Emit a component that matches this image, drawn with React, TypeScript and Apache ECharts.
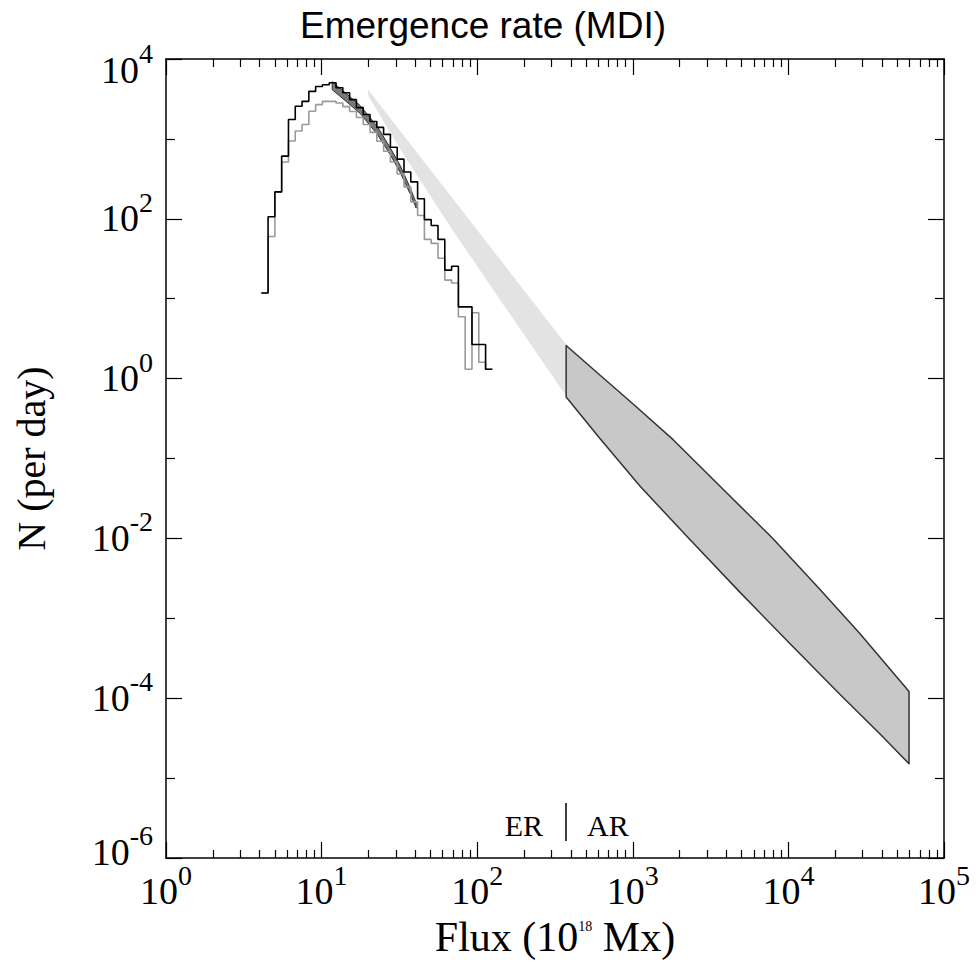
import React, { useEffect, useRef } from 'react';
import * as echarts from 'echarts';

const SERIF = '"Liberation Serif", "Times New Roman", serif';
const SANS = '"Liberation Sans", Arial, sans-serif';

// Histogram bin edges (flux, 1e18 Mx)
const binEdges = [4.095, 4.529, 5.008, 5.538, 6.124, 6.771, 7.487, 8.279, 9.156, 10.12, 11.2, 12.38, 13.69, 15.14, 16.74, 18.51, 20.47, 22.64, 25.03, 27.68, 30.61, 33.85, 37.43, 41.4, 45.78, 50.62, 55.98, 61.9, 68.46, 75.7, 83.71, 92.57, 102.4, 113.2, 125.2];
// Black histogram (per day)
const countsBlack = [11.8, 106, 217, 608, 1751, 2560, 2953, 3930, 4530, 4756, 5036, 4366, 3785, 3100, 2466, 2019, 1653, 1393, 1140, 787, 558, 385, 290, 178, 97.7, 82.4, 55.2, 22.8, 25.5, 7.91, 7.91, 2.67, 2.67, 1.31];
// Gray histogram (per day)
const countsGray = [11.8, 60.1, 217, 513, 942, 1253, 1517, 2218, 2687, 2953, 2953, 2820, 2537, 2199, 1854, 1517, 1208, 934, 702, 513, 364, 251, 163, 110, 55.2, 49.2, 32.1, 17.1, 15.7, 5.94, 1.31, 6.67, 1.6, 1.31];

// ER fit band (dark)
const erFlux = [11.7, 14.19, 17.71, 22.78, 27.61, 32.0, 37.1, 40.55];
const erHigh = [5184, 3786, 2612, 1433, 775, 464, 244, 157];
const erLow = [4125, 3012, 2078, 1141, 635, 380, 205, 136];

// Extrapolated band (light)
const extFlux = [19.93, 32.0, 67.06, 140.4, 372.9];
const extHigh = [4125, 1260, 197, 30.9, 2.67];
const extLow = [3475, 743, 80.0, 9.66, 0.605];

// AR band, upper and lower edges
const arHighFlux = [373, 616.6, 1005, 1816, 3639, 7970, 15970, 28870, 59600];
const arHigh = [2.6, 1.1, 0.481, 0.172, 0.0449, 9.89e-3, 2.3e-3, 6.4e-4, 1.215e-4];
const arLowFlux = [373, 616.6, 1114, 2335, 4891, 10250, 21480, 38810, 59600];
const arLow = [0.588, 0.177, 0.0449, 9.61e-3, 2.11e-3, 4.79e-4, 1.11e-4, 3.56e-5, 1.51e-5];

const xMajorTicks = [1, 10, 100, 1000, 10000, 100000];
const xMinorTicks = [2, 3, 4, 5, 6, 7, 8, 9, 20, 30, 40, 50, 60, 70, 80, 90, 200, 300, 400, 500, 600, 700, 800, 900, 2000, 3000, 4000, 5000, 6000, 7000, 8000, 9000, 20000, 30000, 40000, 50000, 60000, 70000, 80000, 90000];
const yMajorTicks = [1e-6, 1e-4, 1e-2, 1, 1e2, 1e4];
const yMinorTicks = [1e-5, 1e-3, 1e-1, 10, 1e3];

const expOf = (v: number) => Math.round(Math.log10(v));

const labelRich = {
  b: { fontFamily: SERIF, fontSize: 38, lineHeight: 49, verticalAlign: 'bottom', color: '#000' },
  s: { fontFamily: SERIF, fontSize: 28, lineHeight: 12, verticalAlign: 'top', color: '#000' },
  g: { fontFamily: SERIF, fontSize: 8, lineHeight: 22 },
  h: { fontFamily: SERIF, fontSize: 8, lineHeight: 12 },
};

const lineStyle = { color: '#000', width: 1.5 };

function xAxisDef(position: string, ticks: number[], len: number, main: boolean, labels: boolean) {
  return {
    type: 'log', logBase: 10, min: 1, max: 1e5, position, gridIndex: 0,
    axisLine: { show: main, onZero: false, lineStyle },
    axisTick: { show: true, inside: true, length: len, customValues: ticks, lineStyle: { color: '#000', width: 1.2 } },
    axisLabel: labels
      ? {
          customValues: xMajorTicks, margin: 3, rich: labelRich,
          formatter: (v: number) => `{b|10}{s|${expOf(v)}}`,
        }
      : { show: false },
    splitLine: { show: false },
    ...(labels
      ? {
          name: '{a|Flux (10}{s|18}{a| Mx)}', nameLocation: 'middle', nameGap: 61,
          nameTextStyle: {
            rich: {
              a: { fontFamily: SERIF, fontSize: 42, lineHeight: 36, color: '#000' },
              s: { fontFamily: SERIF, fontSize: 14, lineHeight: 14, verticalAlign: 'top', color: '#000' },
            },
          },
        }
      : {}),
  };
}

function yAxisDef(position: string, ticks: number[], len: number, main: boolean, labels: boolean) {
  return {
    type: 'log', logBase: 10, min: 1e-6, max: 1e4, position, gridIndex: 0,
    axisLine: { show: main, onZero: false, lineStyle },
    axisTick: { show: true, inside: true, length: len, customValues: ticks, lineStyle: { color: '#000', width: 1.2 } },
    axisLabel: labels
      ? {
          customValues: yMajorTicks, margin: 13, rich: labelRich, padding: [0, 0, 12, 0],
          formatter: (v: number) => {
            const e = expOf(v);
            if (e === 4) return `{g| }\n{b|10}{s|${e}}`;
            if (e === -6) return `{b|10}{s|${e}}\n{h| }`;
            return `{b|10}{s|${e}}`;
          },
        }
      : { show: false },
    splitLine: { show: false },
    ...(labels
      ? {
          name: 'N (per day)', nameLocation: 'middle', nameGap: 115,
          nameTextStyle: { fontFamily: SERIF, fontSize: 40, color: '#000' },
        }
      : {}),
  };
}

function bandRender(hx: number[], hi: number[], lx: number[], lo: number[], fill: string, stroke: string | null, lw: number) {
  return (params: any, api: any) => {
    if (params.dataIndex !== 0) return null;
    const pts: number[][] = [];
    for (let i = 0; i < hx.length; i++) pts.push(api.coord([hx[i], hi[i]]));
    for (let i = lx.length - 1; i >= 0; i--) pts.push(api.coord([lx[i], lo[i]]));
    return {
      type: 'polygon',
      shape: { points: pts },
      style: { fill, stroke: stroke || 'none', lineWidth: lw, lineJoin: 'round' },
    };
  };
}

function stepData(counts: number[]) {
  return binEdges.map((e, i) => [e, counts[Math.min(i, counts.length - 1)]]);
}

function buildOption() {
  return {
    animation: false,
    backgroundColor: '#fff',
    grid: { left: 166, right: 32, top: 59, bottom: 98 },
    xAxis: [
      xAxisDef('bottom', xMajorTicks, 16, true, true),
      xAxisDef('bottom', xMinorTicks, 8, false, false),
      xAxisDef('top', xMajorTicks, 16, true, false),
      xAxisDef('top', xMinorTicks, 8, false, false),
    ],
    yAxis: [
      yAxisDef('left', yMajorTicks, 16, true, true),
      yAxisDef('left', yMinorTicks, 9, false, false),
      yAxisDef('right', yMajorTicks, 16, true, false),
      yAxisDef('right', yMinorTicks, 9, false, false),
    ],
    graphic: [
      {
        type: 'text', x: 483, y: 25, z: 10,
        style: { text: 'Emergence rate (MDI)', fontFamily: SANS, fontSize: 37, fill: '#000', textAlign: 'center', textVerticalAlign: 'middle' },
      },
      {
        type: 'text', x: 543, y: 825, z: 10,
        style: { text: 'ER', fontFamily: SERIF, fontSize: 30, fill: '#000', textAlign: 'right', textVerticalAlign: 'middle' },
      },
      {
        type: 'text', x: 587, y: 825, z: 10,
        style: { text: 'AR', fontFamily: SERIF, fontSize: 30, fill: '#000', textAlign: 'left', textVerticalAlign: 'middle' },
      },
      {
        type: 'line', z: 10,
        shape: { x1: 566, y1: 803, x2: 566, y2: 841 },
        style: { stroke: '#000', lineWidth: 1.5 },
      },
    ],
    series: [
      {
        type: 'custom', name: 'extrapolation', xAxisIndex: 0, yAxisIndex: 0, silent: true,
        data: [[extFlux[0], extHigh[0]]],
        renderItem: bandRender(extFlux, extHigh, extFlux, extLow, '#e3e3e3', null, 0),
      },
      {
        type: 'custom', name: 'AR', xAxisIndex: 0, yAxisIndex: 0, silent: true,
        data: [[arHighFlux[0], arHigh[0]]],
        renderItem: bandRender(arHighFlux, arHigh, arLowFlux, arLow, '#c8c8c8', '#333', 1.5),
      },
      {
        type: 'line', name: 'gray', xAxisIndex: 0, yAxisIndex: 0, step: 'end', showSymbol: false, symbol: 'none',
        data: stepData(countsGray),
        lineStyle: { color: '#9a9a9a', width: 1.6 },
      },
      {
        type: 'line', name: 'black', xAxisIndex: 0, yAxisIndex: 0, step: 'end', showSymbol: false, symbol: 'none',
        data: stepData(countsBlack),
        lineStyle: { color: '#000', width: 1.6 },
      },
      {
        type: 'custom', name: 'ER fit', xAxisIndex: 0, yAxisIndex: 0, silent: true,
        data: [[erFlux[0], erHigh[0]]],
        renderItem: bandRender(erFlux, erHigh, erFlux, erLow, '#7a7a7a', '#333', 1),
      },
    ],
  };
}

export default function App() {
  const ref = useRef<HTMLDivElement>(null);
  useEffect(() => {
    const chart = echarts.init(ref.current as HTMLDivElement, null, { renderer: 'svg' });
    chart.setOption(buildOption() as any);
    return () => chart.dispose();
  }, []);
  return (
    <div
      ref={ref}
      style={{ position: 'absolute', left: 0, top: 0, width: 976, height: 963, background: '#fff' }}
    />
  );
}
